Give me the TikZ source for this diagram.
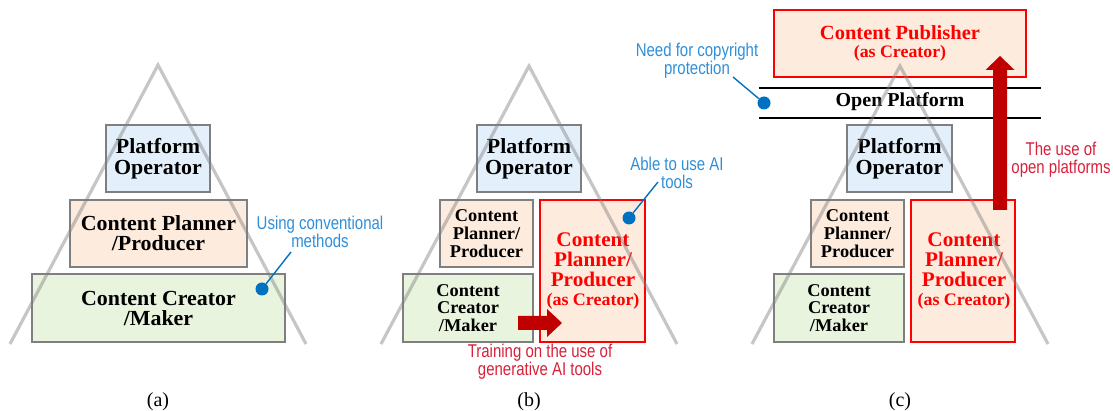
\documentclass[tikz,border=0pt]{standalone}
\usepackage{fontspec}
\setmainfont[FakeStretch=1.02]{Liberation Serif}
\newfontfamily\labelfont[FakeStretch=0.81]{Liberation Sans}
\newfontfamily\capfont{Liberation Serif}
\definecolor{fblue}{HTML}{E3F0FC}
\definecolor{forange}{HTML}{FDEBDD}
\definecolor{fgreen}{HTML}{E8F4DE}
\definecolor{edgegray}{HTML}{7F7F7F}
\definecolor{dkred}{HTML}{C00000}
\definecolor{dotblue}{HTML}{0070C0}
\definecolor{lblblue}{HTML}{2E8FD8}
\definecolor{lblred}{HTML}{D8203A}
\tikzset{
  x=1pt,y=-1pt,
  box/.style={draw=edgegray,line width=1.5pt,inner sep=0pt,align=center,font=\fontsize{21.5}{20}\selectfont\bfseries,text=black},
  smallbox/.style={box,font=\fontsize{18}{17.7}\selectfont\bfseries},
  bluebox/.style={box,fill=fblue},
  orangebox/.style={box,fill=forange},
  greenbox/.style={box,fill=fgreen},
  sorangebox/.style={smallbox,fill=forange},
  sgreenbox/.style={smallbox,fill=fgreen},
  redbox/.style={draw=red,line width=1.5pt,fill=forange,inner sep=0pt},
  redtext/.style={inner sep=0pt,align=center,text=red,font=\fontsize{20.8}{20}\selectfont\bfseries},
  tri/.style={draw=gray,draw opacity=.45,line width=3.2pt,line join=miter},
  dotmark/.style={circle,fill=dotblue,inner sep=0pt,minimum size=13pt},
  leader/.style={draw=dotblue,line width=1.4pt},
  bluelabel/.style={text=lblblue,align=center,inner sep=0pt,font=\labelfont\fontsize{18.5}{18}\selectfont},
  redlabel/.style={text=lblred,align=center,inner sep=0pt,font=\labelfont\fontsize{18.5}{18}\selectfont},
  caption/.style={inner sep=0pt,font=\capfont\fontsize{20}{20}\selectfont,text=black},
  bigarrow/.style={fill=dkred,draw=none},
  rule/.style={draw=black,line width=1.5pt},
  plain/.style={inner sep=0pt,align=center,font=\fontsize{19.7}{20}\selectfont\bfseries,text=black}
}
\begin{document}
\begin{tikzpicture}
\useasboundingbox (0,0) rectangle (1113,411);
% ---------- (a)
\node[bluebox,minimum width=104pt,minimum height=67pt] (pa) at (158,158.5) {Platform\\[0.5pt]Operator};
\node[orangebox,minimum width=177pt,minimum height=67pt] (pla) at (158.5,233.5) {Content Planner\\/Producer};
\node[greenbox,minimum width=253pt,minimum height=68pt] (cra) at (158.5,308) {Content Creator\\/Maker};
\coordinate (ta) at (158,65); \coordinate (la) at (10,344); \coordinate (ra) at (306,344);
\draw[tri] (la) -- (ta) -- (ra);
\node[dotmark] (da) at (262,289) {};
\node[bluelabel] (ua) at (320,232) {Using conventional\\methods};
\coordinate (ea) at (291,252);
\draw[leader] (da) -- (ea);
\node[caption] (capa) at (158,401.5) {(a)};
% ---------- (b)
\node[bluebox,minimum width=104pt,minimum height=67pt] (pb) at (529,158.5) {Platform\\[0.5pt]Operator};
\node[sorangebox,minimum width=93pt,minimum height=67pt] (plb) at (486.5,233.5) {Content\\Planner/\\Producer};
\node[sgreenbox,minimum width=130pt,minimum height=68pt] (crb) at (468,308) {Content\\Creator\\/Maker};
\node[redbox,minimum width=105pt,minimum height=142pt] (rb) at (592.5,271) {};
\node[redtext] (rbt) at (593,271) {Content\\Planner/\\Producer\\[-1pt]{\fontsize{17.6}{18}\selectfont (as Creator)}};
\coordinate (tb) at (529,66); \coordinate (lb) at (381,344); \coordinate (rbb) at (677,344);
\draw[tri] (lb) -- (tb) -- (rbb);
\fill[bigarrow] (518,316) -- (547,316) -- (547,309) -- (562,323) -- (547,337) -- (547,330) -- (518,330) -- cycle;
\node[dotmark] (db) at (629,218) {};
\node[bluelabel] (ub) at (677,173) {Able to use AI\\tools};
\coordinate (eb) at (658,182);
\draw[leader] (db) -- (eb);
\node[redlabel] (tr) at (540,362) {Training on the use of\\generative AI tools};
\node[caption] (capb) at (529,401.5) {(b)};
% ---------- (c)
\node[redbox,minimum width=252pt,minimum height=67pt] (pub) at (900,43.5) {};
\node[redtext,font=\fontsize{20.1}{20}\selectfont\bfseries] (pubt) at (900,43) {Content Publisher\\[-2pt]{\fontsize{17.5}{18}\selectfont (as Creator)}};
\coordinate (r1l) at (759,88); \coordinate (r1r) at (1041,88);
\coordinate (r2l) at (759,118); \coordinate (r2r) at (1041,118);
\draw[rule] (r1l) -- (r1r);
\draw[rule] (r2l) -- (r2r);
\node[plain] (op) at (900,102) {Open Platform};
\node[bluebox,minimum width=105pt,minimum height=67pt] (pc) at (899.5,158.5) {Platform\\[0.5pt]Operator};
\node[sorangebox,minimum width=93pt,minimum height=67pt] (plc) at (857.5,233.5) {Content\\Planner/\\Producer};
\node[sgreenbox,minimum width=130pt,minimum height=68pt] (crc) at (839,308) {Content\\Creator\\/Maker};
\node[redbox,minimum width=104pt,minimum height=142pt] (rc) at (963,271) {};
\node[redtext] (rct) at (964,271) {Content\\Planner/\\Producer\\[-1pt]{\fontsize{17.6}{18}\selectfont (as Creator)}};
\coordinate (tc) at (900,66); \coordinate (lc) at (752,344); \coordinate (rcc) at (1048,344);
\draw[tri] (lc) -- (tc) -- (rcc);
\fill[bigarrow] (993,210) -- (993,70) -- (985.5,70) -- (1000,56) -- (1014.5,70) -- (1007,70) -- (1007,210) -- cycle;
\node[dotmark] (dc) at (764,103) {};
\node[bluelabel] (uc) at (697,61) {Need for copyright\\protection};
\coordinate (ec) at (733,77);
\draw[leader] (dc) -- (ec);
\node[redlabel] (tc2) at (1061,160) {The use of\\open platforms};
\node[caption] (capc) at (900,401.5) {(c)};
\end{tikzpicture}
\end{document}
